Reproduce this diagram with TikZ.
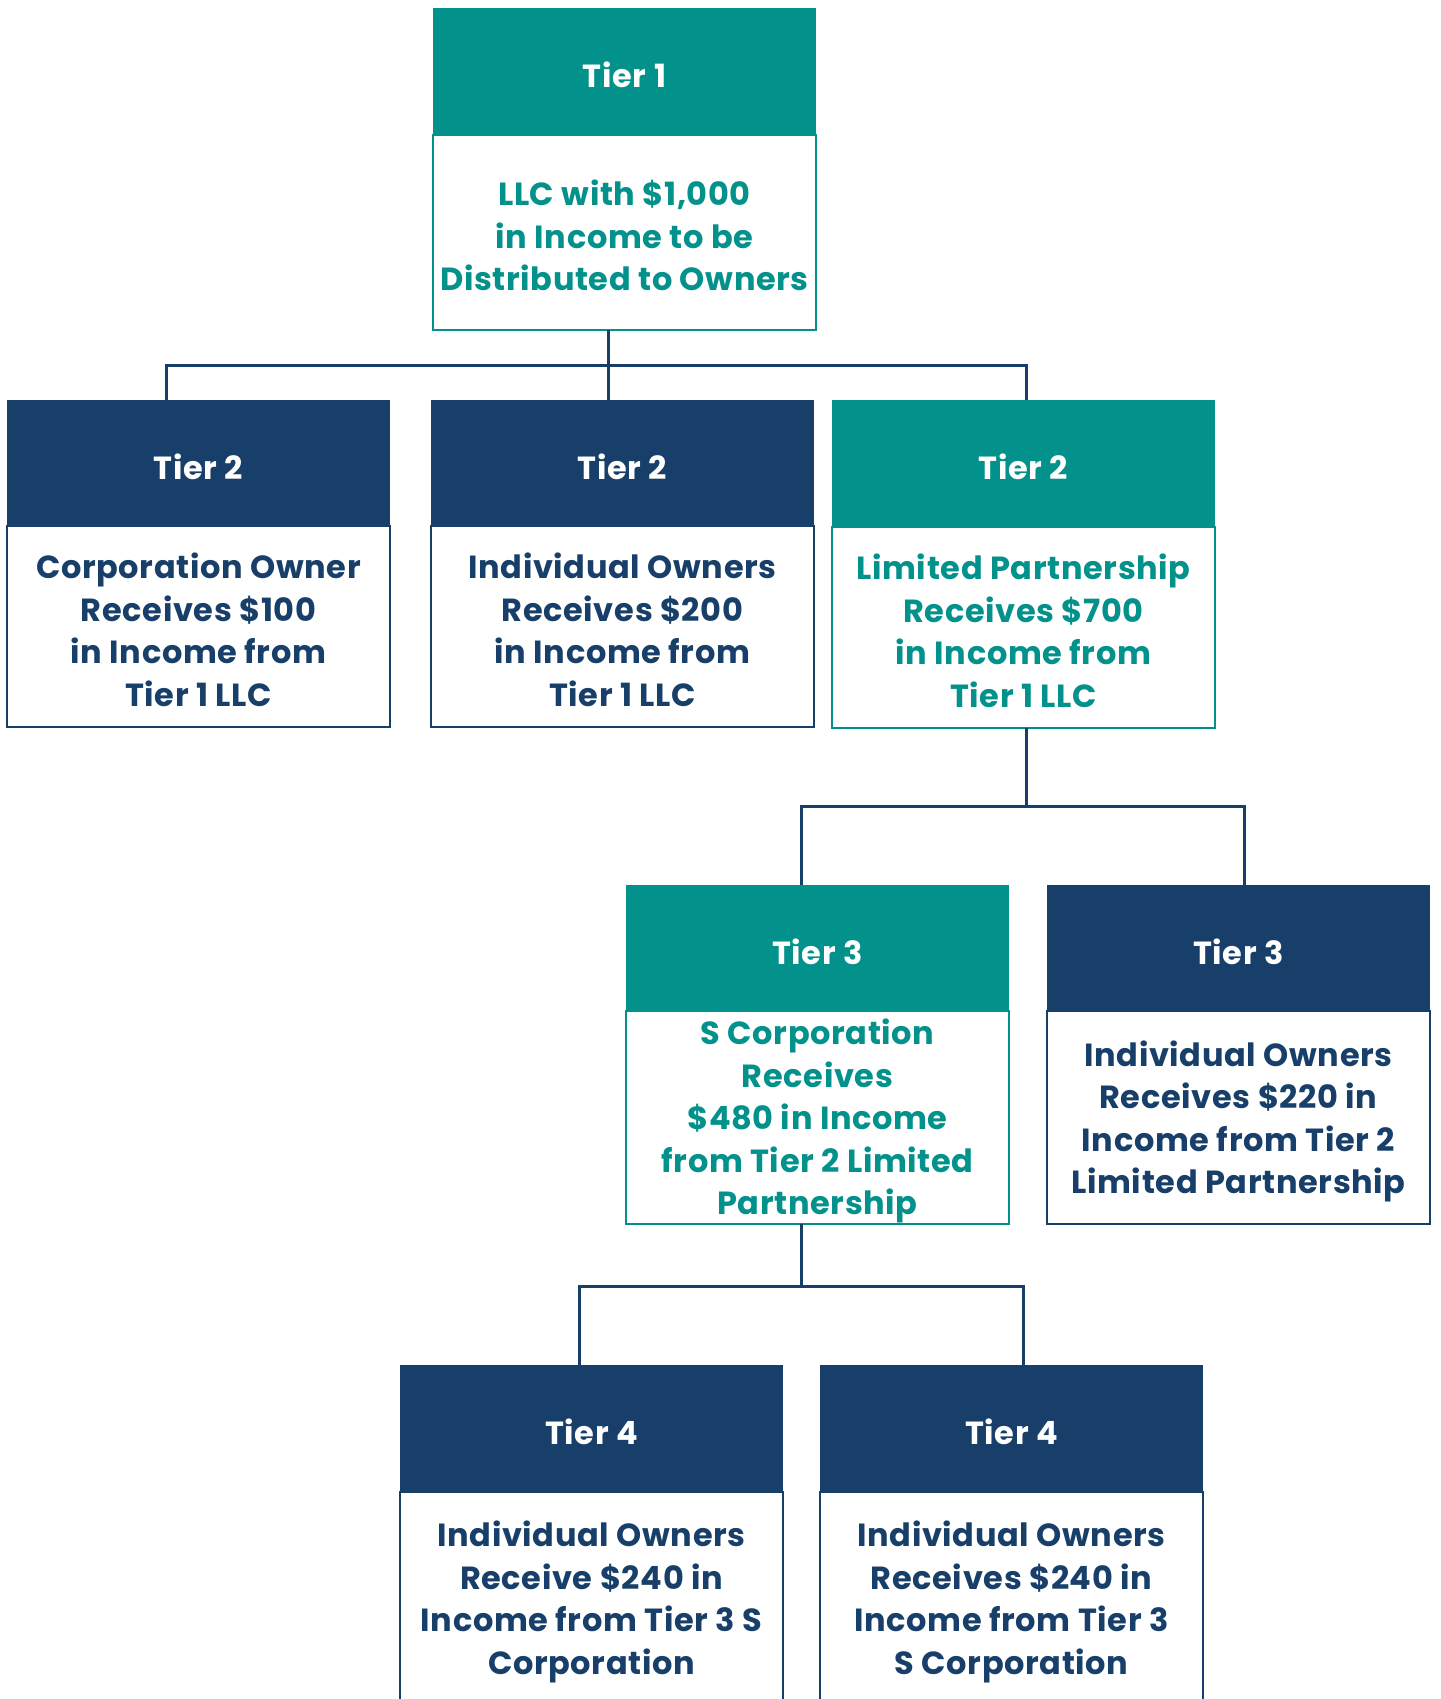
\documentclass[tikz,border=0pt]{standalone}
\usepackage{fontspec}
\setmainfont{Poppins}[LetterSpace=2]
\definecolor{tealc}{HTML}{02918B}
\definecolor{navyc}{HTML}{183F69}
\newcommand\myTop{\rule{0pt}{33pt}}
\newcommand\myBot{\rule[-1.2pt]{0pt}{1.2pt}}
\tikzset{
  hdr/.style={anchor=north west, minimum width=383pt, minimum height=127pt, inner sep=0pt, outer sep=0pt, text=white, text height=33.5pt, text depth=1.1pt, font=\bfseries\fontsize{32}{42.5}\selectfont},
  hteal/.style={hdr, fill=tealc},
  hnavy/.style={hdr, fill=navyc},
  bdy/.style={anchor=north west, minimum width=383pt, inner sep=0pt, outer sep=0pt, line width=2.5pt, fill=white, align=center, font=\bfseries\fontsize{32}{42.5}\selectfont},
  bteal/.style={bdy, draw=tealc, text=tealc},
  bnavy/.style={bdy, draw=navyc, text=navyc},
  conn/.style={draw=navyc, line width=3pt, line join=miter}
}
\begin{document}
\begin{tikzpicture}[x=1pt,y=-1pt]
\useasboundingbox (0,0) rectangle (1440,1699);
\clip (0,0) rectangle (1440,1699);
\fill[white] (0,0) rectangle (1440,1699);
% Tier 1
\node[bteal, minimum height=195pt] (t1b) at (433,135) {\myTop LLC with \$1,000\\in Income to be\\Distributed to Owners\myBot};
\node[hteal] (t1h) at (433,8) {Tier 1};
% Tier 2
\node[bnavy, minimum height=201pt] (t2ab) at (7,526) {\myTop Corporation Owner\\Receives \$100\\in Income from\\Tier 1 LLC\myBot};
\node[hnavy] (t2ah) at (7,400) {Tier 2};
\node[bnavy, minimum height=201pt] (t2bb) at (431,526) {\myTop Individual Owners\\Receives \$200\\in Income from\\Tier 1 LLC\myBot};
\node[hnavy] (t2bh) at (431,400) {Tier 2};
\node[bteal, minimum height=201pt] (t2cb) at (832,527) {\myTop Limited Partnership\\Receives \$700\\in Income from\\Tier 1 LLC\myBot};
\node[hteal] (t2ch) at (832,400) {Tier 2};
% Tier 3
\node[bteal, minimum height=213pt] (t3ab) at (626,1011) {\myTop S Corporation\\Receives\\\$480 in Income\\from Tier 2 Limited\\Partnership\myBot};
\node[hteal] (t3ah) at (626,885) {Tier 3};
\node[bnavy, minimum height=213pt] (t3bb) at (1047,1011) {\myTop Individual Owners\\Receives \$220 in\\Income from Tier 2\\Limited Partnership\myBot};
\node[hnavy] (t3bh) at (1047,885) {Tier 3};
% Tier 4
\node[bnavy, minimum height=212pt] (t4ab) at (400,1492) {\myTop Individual Owners\\Receive \$240 in\\Income from Tier 3 S\\Corporation\myBot};
\node[hnavy] (t4ah) at (400,1365) {Tier 4};
\node[bnavy, minimum height=212pt] (t4bb) at (820,1492) {\myTop Individual Owners\\Receives \$240 in\\Income from Tier 3\\S Corporation\myBot};
\node[hnavy] (t4bh) at (820,1365) {Tier 4};
% connectors
\draw[conn] ([xshift=-16.5pt]t1b.south) -- ([xshift=-14.5pt]t2bh.north);
\draw[conn] ([xshift=-32.5pt]t2ah.north) -- ++(0,-35) -| ([xshift=2.5pt]t2ch.north);
\draw[conn] ([xshift=2.5pt]t2cb.south) -- ++(0,78);
\draw[conn] ([xshift=-16.5pt]t3ah.north) -- ++(0,-79) -| ([xshift=5.5pt]t3bh.north);
\draw[conn] ([xshift=-16.5pt]t3ab.south) -- ++(0,62);
\draw[conn] ([xshift=-12.5pt]t4ah.north) -- ++(0,-79) -| ([xshift=11.5pt]t4bh.north);
\end{tikzpicture}
\end{document}
